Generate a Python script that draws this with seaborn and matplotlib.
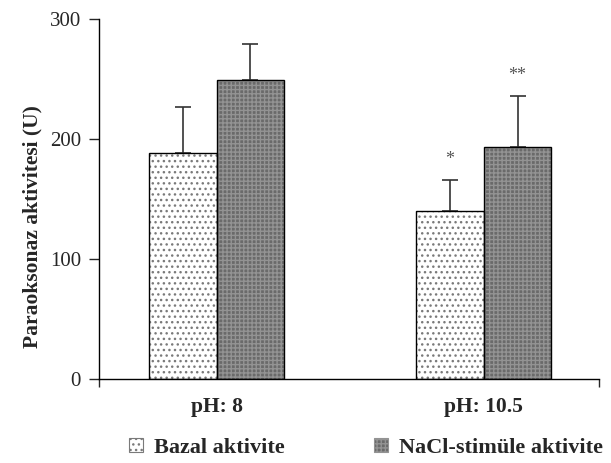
import matplotlib
matplotlib.use("Agg")
import matplotlib.pyplot as plt
import seaborn as sns
import pandas as pd
import numpy as np
from matplotlib.patches import Patch, Rectangle

groups = ["pH: 8", "pH: 10.5"]
series = ["Bazal aktivite", "NaCl-stimüle aktivite"]
bazal = [188, 140]
nacl = [249, 193]
bazal_err = [39, 26]
nacl_err = [30, 43]
marks_bazal = ["", "*"]
marks_nacl = ["", "**"]
yticks = [0, 100, 200, 300]

sns.set_style("ticks")
plt.rcParams["font.family"] = ["Liberation Serif", "DejaVu Serif"]
plt.rcParams["hatch.linewidth"] = 1.0

df = pd.DataFrame({
    "grp": groups * 2,
    "ser": [series[0]] * 2 + [series[1]] * 2,
    "val": bazal + nacl,
})

fig = plt.figure(figsize=(6.11, 4.63), dpi=100)
ax = fig.add_axes([0.162, 0.181, 0.818, 0.778])
sns.barplot(data=df, x="grp", y="val", hue="ser", order=groups,
            hue_order=series, width=0.505, errorbar=None, legend=False, ax=ax)

styles = [
    dict(face="white", hatch="...", hcol="#7a7a7a"),
    dict(face="#6a6a6a", hatch="++++", hcol="#939393"),
]
bars = list(ax.patches)
n = len(groups)
errs = bazal_err + nacl_err
marks = marks_bazal + marks_nacl
for i, p in enumerate(bars):
    st = styles[i // n]
    p.set_facecolor(st["face"])
    p.set_hatch(st["hatch"])
    p.set_edgecolor(st["hcol"])
    p.set_linewidth(0)
    ax.add_patch(Rectangle((p.get_x(), p.get_y()), p.get_width(), p.get_height(),
                           fill=False, edgecolor="black", linewidth=1.0, zorder=3))
    xc = p.get_x() + p.get_width() / 2
    h = p.get_height()
    ax.errorbar([xc], [h], yerr=[[0], [errs[i]]], fmt="none", ecolor="#333333",
                elinewidth=1.2, capsize=6, capthick=1.2, zorder=2)
    if marks[i]:
        ax.text(xc, h + errs[i] + 10, marks[i], ha="center", va="bottom",
                fontsize=13, color="#555555")

ax.set_xlim(-0.44, 1.43)
ax.set_ylim(0, 300)
ax.set_yticks(yticks)
ax.set_yticklabels([str(t) for t in yticks], fontsize=15)
ax.tick_params(axis="y", direction="out", length=7, width=1, pad=6)
ax.tick_params(axis="x", which="major", length=0, pad=13)
ax.set_xticks(range(n))
ax.set_xticklabels(groups, fontsize=15.5, fontweight="bold")
ax.set_xticks([-0.44, 1.43], minor=True)
ax.tick_params(axis="x", which="minor", direction="out", length=6, width=1)
ax.set_xlabel("")
ax.set_ylabel("Paraoksonaz aktivitesi (U)", fontsize=15.5, fontweight="bold")
ax.yaxis.set_label_coords(-0.114, 0.425)
for s in ["top", "right"]:
    ax.spines[s].set_visible(False)
for s in ["left", "bottom"]:
    ax.spines[s].set_linewidth(1)
    ax.spines[s].set_color("black")

handles = [Patch(facecolor=st["face"], hatch=st["hatch"], edgecolor=st["hcol"], linewidth=0.8)
           for st in styles]
leg = fig.legend(handles, series, loc="center", bbox_to_anchor=(0.599, 0.033), ncol=2,
                 frameon=False, handlelength=0.6, handleheight=0.6, handletextpad=0.5,
                 columnspacing=4.05,
                 prop={"family": "Liberation Serif", "weight": "bold", "size": 16})

fig.savefig("out.png", dpi=100)
